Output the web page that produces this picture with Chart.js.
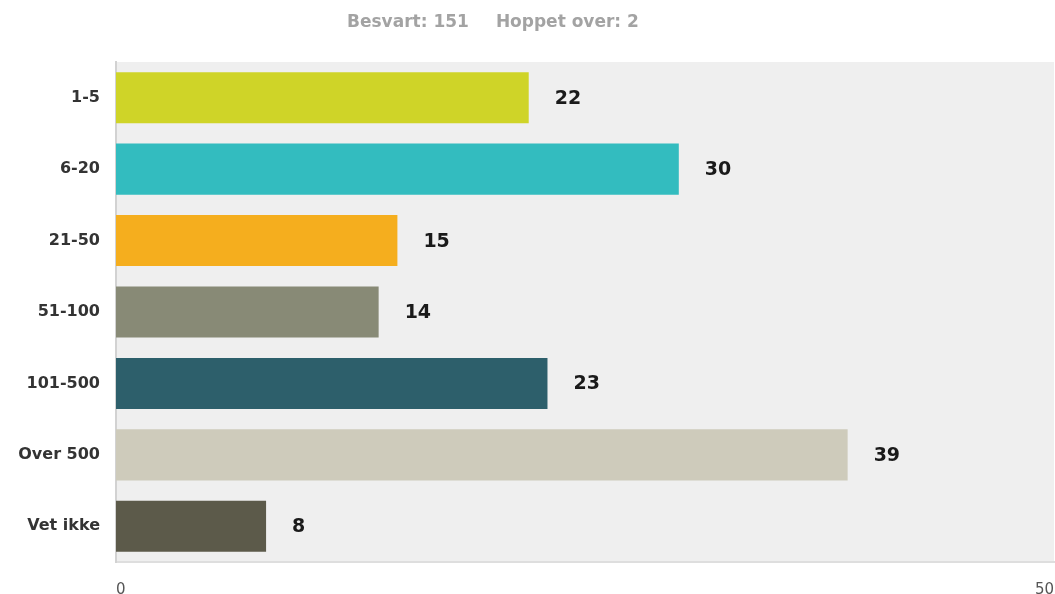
<!DOCTYPE html>
<html>
<head>
<meta charset="utf-8">
<script src="https://cdn.jsdelivr.net/npm/chart.js@4/dist/chart.umd.min.js"></script>
<style>
  html, body { margin: 0; padding: 0; background: #ffffff; overflow: hidden; }
  #wrap { position: relative; width: 1055px; height: 594px; }
  #summary {
    position: absolute; left: 347px; top: 11px;
    font: bold 17px "DejaVu Sans", Verdana, sans-serif;
    color: #a3a3a3; white-space: nowrap;
  }
  #summary span + span { margin-left: 27px; }
  canvas { position: absolute; left: 0; top: 0; }
</style>
</head>
<body>
<div id="wrap">
  <canvas id="chart" width="1055" height="594"></canvas>
  <div id="summary"><span>Besvart: 151</span><span>Hoppet over: 2</span></div>
</div>
<script>
// Answer categories and number of responses per category
const categories = ['1-5', '6-20', '21-50', '51-100', '101-500', 'Over 500', 'Vet ikke'];
const responses = [22, 30, 15, 14, 23, 39, 8];
const barColors = ['#cfd428', '#33bcbf', '#f5ae1e', '#888a76', '#2d5f6b', '#cecbbb', '#5c5a4a'];
const axisTicks = [0, 50];

// Grey panel behind the bars
const panelBackground = {
  id: 'panelBackground',
  beforeDraw(chart) {
    const { ctx, chartArea: a } = chart;
    ctx.save();
    ctx.fillStyle = '#efefef';
    ctx.fillRect(a.left, a.top, a.right - a.left, a.bottom - a.top);
    ctx.restore();
  }
};

// Count printed to the right of each bar
const valueLabels = {
  id: 'valueLabels',
  afterDatasetsDraw(chart) {
    const { ctx } = chart;
    const meta = chart.getDatasetMeta(0);
    ctx.save();
    ctx.font = 'bold 19px "DejaVu Sans", Verdana, sans-serif';
    ctx.fillStyle = '#1a1a1a';
    ctx.textAlign = 'left';
    ctx.textBaseline = 'middle';
    meta.data.forEach((bar, i) => {
      ctx.fillText(String(responses[i]), bar.x + 26, bar.y + 1);
    });
    ctx.restore();
  }
};

new Chart(document.getElementById('chart'), {
  type: 'bar',
  data: {
    labels: categories,
    datasets: [{
      data: responses,
      backgroundColor: barColors,
      borderWidth: 0,
      categoryPercentage: 0.715,
      barPercentage: 1
    }]
  },
  options: {
    indexAxis: 'y',
    responsive: false,
    animation: false,
    layout: { padding: { top: 62, right: 1, left: 0, bottom: 0 } },
    plugins: { legend: { display: false }, tooltip: { enabled: false } },
    scales: {
      x: {
        min: 0, max: 50,
        afterBuildTicks(scale) { scale.ticks = axisTicks.map(v => ({ value: v })); },
        afterFit(scale) {
          scale.height = 32;
          scale.paddingLeft = 0;
          scale.paddingRight = 0;
        },
        grid: { display: false, drawTicks: false },
        border: { display: true, color: '#dedede', width: 2 },
        ticks: {
          align: 'inner',
          maxRotation: 0,
          padding: 19,
          color: '#555555',
          font: { family: '"DejaVu Sans", Verdana, sans-serif', size: 15 }
        }
      },
      y: {
        afterFit(scale) { scale.width = 116; },
        grid: { display: false, drawTicks: false },
        border: { display: true, color: '#d2d2d2', width: 2 },
        ticks: {
          padding: 16,
          color: '#333333',
          font: { family: '"DejaVu Sans", Verdana, sans-serif', size: 16, weight: 'bold' }
        }
      }
    }
  },
  plugins: [panelBackground, valueLabels]
});
</script>
</body>
</html>
